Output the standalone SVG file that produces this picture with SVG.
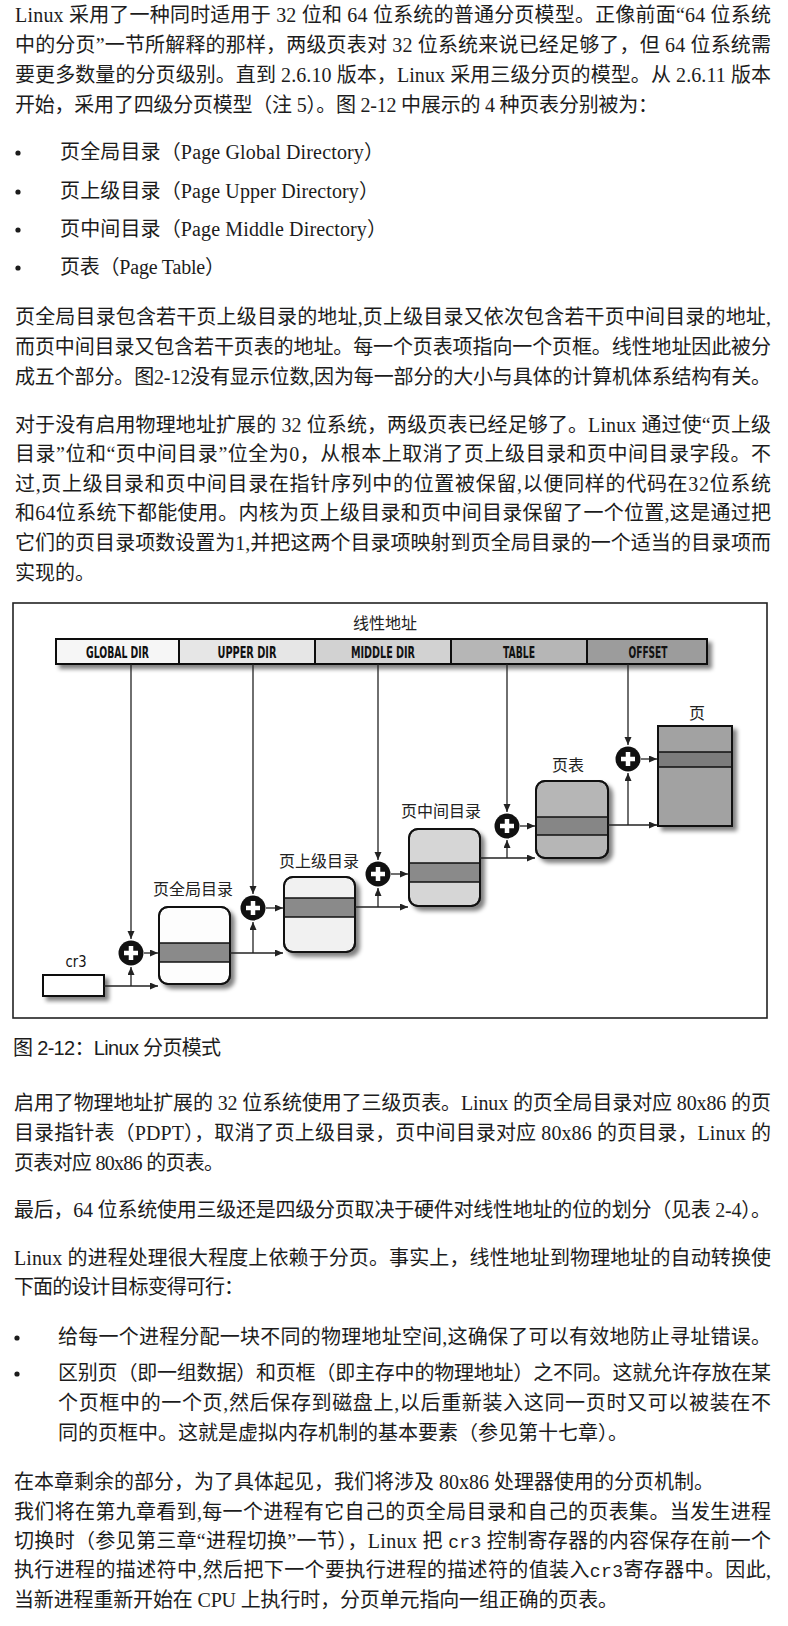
<svg xmlns="http://www.w3.org/2000/svg" width="788" height="1626" viewBox="0 0 788 1626">
<style>
.t{font-family:"Liberation Serif","Noto Sans CJK SC",serif;font-size:20px;fill:#1c1c1c}
.m{font-family:"Liberation Mono",monospace;font-size:18px}
.cap{font-family:"Liberation Sans","Noto Sans CJK SC",sans-serif;font-size:20px;fill:#1c1c1c}
.lbl{font-family:"Liberation Sans","Noto Sans CJK SC",sans-serif;font-size:16px;fill:#222;text-anchor:middle}
.bar{font-family:"DejaVu Sans Condensed","DejaVu Sans",sans-serif;font-weight:bold;font-size:16px;fill:#111;text-anchor:middle}
.seg{stroke:#111;stroke-width:2}
.box{stroke:#111;stroke-width:2}
.band{fill:#8a8a8a;stroke:#111;stroke-width:1.5}
.con{stroke:#222;stroke-width:1.3;fill:none}
.dot{fill:#1c1c1c}
</style>
<defs>
<filter id="sh" x="-20%" y="-20%" width="160%" height="160%">
<feGaussianBlur in="SourceAlpha" stdDeviation="2"/>
<feOffset dx="4" dy="4"/>
<feComponentTransfer><feFuncA type="linear" slope="0.5"/></feComponentTransfer>
<feMerge><feMergeNode/><feMergeNode in="SourceGraphic"/></feMerge>
</filter>
<marker id="ah" markerUnits="userSpaceOnUse" markerWidth="9" markerHeight="8" refX="8" refY="3.5" orient="auto">
<path d="M0,0L8,3.5L0,7z" fill="#222"/>
</marker>
<g id="plus"><circle r="12.5" fill="#111"/><path d="M-7,0H7M0,-7V7" stroke="#fff" stroke-width="4.5"/></g>
</defs>
<rect width="788" height="1626" fill="#fff"/>

<g id="text-top">
<text class="t" x="15" y="22" textLength="756" lengthAdjust="spacing">Linux 采用了一种同时适用于 32 位和 64 位系统的普通分页模型。正像前面“64 位系统</text>
<text class="t" x="15" y="52" textLength="756" lengthAdjust="spacing">中的分页”一节所解释的那样，两级页表对 32 位系统来说已经足够了，但 64 位系统需</text>
<text class="t" x="15" y="82" textLength="756" lengthAdjust="spacing">要更多数量的分页级别。直到 2.6.10 版本，Linux 采用三级分页的模型。从 2.6.11 版本</text>
<text class="t" x="15" y="112" textLength="643" lengthAdjust="spacing">开始，采用了四级分页模型（注 5）。图 2-12 中展示的 4 种页表分别被为：</text>
<circle class="dot" cx="18" cy="153" r="2.6"/>
<circle class="dot" cx="18" cy="192" r="2.6"/>
<circle class="dot" cx="18" cy="230" r="2.6"/>
<circle class="dot" cx="18" cy="268" r="2.6"/>
<text class="t" x="60" y="159" textLength="324" lengthAdjust="spacing">页全局目录（Page Global Directory）</text>
<text class="t" x="60" y="198" textLength="319" lengthAdjust="spacing">页上级目录（Page Upper Directory）</text>
<text class="t" x="60" y="236" textLength="327" lengthAdjust="spacing">页中间目录（Page Middle Directory）</text>
<text class="t" x="60" y="274" textLength="165" lengthAdjust="spacing">页表（Page Table）</text>
<text class="t" x="15" y="324" textLength="756" lengthAdjust="spacing">页全局目录包含若干页上级目录的地址,页上级目录又依次包含若干页中间目录的地址,</text>
<text class="t" x="15" y="354" textLength="756" lengthAdjust="spacing">而页中间目录又包含若干页表的地址。每一个页表项指向一个页框。线性地址因此被分</text>
<text class="t" x="15" y="384" textLength="756" lengthAdjust="spacing">成五个部分。图2-12没有显示位数,因为每一部分的大小与具体的计算机体系结构有关。</text>
<text class="t" x="15" y="432" textLength="756" lengthAdjust="spacing">对于没有启用物理地址扩展的 32 位系统，两级页表已经足够了。Linux 通过使“页上级</text>
<text class="t" x="15" y="461" textLength="756" lengthAdjust="spacing">目录”位和“页中间目录”位全为0，从根本上取消了页上级目录和页中间目录字段。不</text>
<text class="t" x="15" y="491" textLength="756" lengthAdjust="spacing">过,页上级目录和页中间目录在指针序列中的位置被保留,以便同样的代码在32位系统</text>
<text class="t" x="15" y="520" textLength="756" lengthAdjust="spacing">和64位系统下都能使用。内核为页上级目录和页中间目录保留了一个位置,这是通过把</text>
<text class="t" x="15" y="550" textLength="756" lengthAdjust="spacing">它们的页目录项数设置为1,并把这两个目录项映射到页全局目录的一个适当的目录项而</text>
<text class="t" x="15" y="580">实现的。</text>
</g>

<g id="figure">
<rect x="13" y="603" width="754" height="415" fill="#fff" stroke="#222" stroke-width="1.6"/>
<text class="lbl" x="385" y="629">线性地址</text>
</g>

<g id="linear-address">
<g filter="url(#sh)">
<rect class="seg" x="56" y="639" width="123" height="25" fill="#f6f6f6"/>
<rect class="seg" x="179" y="639" width="136" height="25" fill="#e6e6e6"/>
<rect class="seg" x="315" y="639" width="136" height="25" fill="#d2d2d2"/>
<rect class="seg" x="451" y="639" width="136" height="25" fill="#b6b6b6"/>
<rect class="seg" x="587" y="639" width="120" height="25" fill="#9c9c9c"/>
</g>
<text class="bar" x="117.5" y="658" textLength="63" lengthAdjust="spacingAndGlyphs">GLOBAL DIR</text>
<text class="bar" x="247" y="658" textLength="59" lengthAdjust="spacingAndGlyphs">UPPER DIR</text>
<text class="bar" x="383" y="658" textLength="64" lengthAdjust="spacingAndGlyphs">MIDDLE DIR</text>
<text class="bar" x="519" y="658" textLength="32" lengthAdjust="spacingAndGlyphs">TABLE</text>
<text class="bar" x="648" y="658" textLength="39" lengthAdjust="spacingAndGlyphs">OFFSET</text>
</g>

<g id="cr3">
<rect class="box" x="43" y="975" width="61" height="21" fill="#fff" filter="url(#sh)"/>
<text class="bar" style="font-weight:normal;font-size:15px" x="76" y="967" textLength="21" lengthAdjust="spacingAndGlyphs">cr3</text>
</g>

<g id="page-global-dir">
<rect class="box" x="159" y="907" width="71" height="77" rx="9" fill="#fdfdfd" filter="url(#sh)"/>
<rect class="band" x="159" y="943" width="71" height="19"/>
<rect x="159" y="907" width="71" height="77" rx="9" fill="none" stroke="#111" stroke-width="2"/>
<text class="lbl" x="193" y="895">页全局目录</text>
</g>

<g id="page-upper-dir">
<rect class="box" x="284" y="877" width="71" height="75" rx="9" fill="#f1f1f1" filter="url(#sh)"/>
<rect class="band" x="284" y="898" width="71" height="19"/>
<rect x="284" y="877" width="71" height="75" rx="9" fill="none" stroke="#111" stroke-width="2"/>
<text class="lbl" x="319" y="867">页上级目录</text>
</g>

<g id="page-middle-dir">
<rect class="box" x="409" y="829" width="71" height="77" rx="9" fill="#d6d6d6" filter="url(#sh)"/>
<rect class="band" x="409" y="863" width="71" height="19"/>
<rect x="409" y="829" width="71" height="77" rx="9" fill="none" stroke="#111" stroke-width="2"/>
<text class="lbl" x="441" y="817">页中间目录</text>
</g>

<g id="page-table">
<rect class="box" x="536" y="781" width="72" height="77" rx="9" fill="#b6b6b6" filter="url(#sh)"/>
<rect class="band" x="536" y="817" width="72" height="18" style="fill:#868686"/>
<rect x="536" y="781" width="72" height="77" rx="9" fill="none" stroke="#111" stroke-width="2"/>
<text class="lbl" x="568" y="771">页表</text>
</g>

<g id="page">
<rect class="box" x="658" y="726" width="74" height="100" fill="#a2a2a2" filter="url(#sh)"/>
<rect class="band" x="658" y="752" width="74" height="15" style="fill:#7c7c7c"/>
<rect x="658" y="726" width="74" height="100" fill="none" stroke="#111" stroke-width="2"/>
<text class="lbl" x="697" y="719">页</text>
</g>

<g id="adders">
<use href="#plus" x="131" y="953"/>
<use href="#plus" x="253" y="908"/>
<use href="#plus" x="378" y="874"/>
<use href="#plus" x="507" y="826"/>
<use href="#plus" x="628" y="759"/>
</g>

<g id="connectors">
<path class="con" d="M131,664V939" marker-end="url(#ah)"/>
<path class="con" d="M253,664V894" marker-end="url(#ah)"/>
<path class="con" d="M378,664V860" marker-end="url(#ah)"/>
<path class="con" d="M507,664V812" marker-end="url(#ah)"/>
<path class="con" d="M628,664V745" marker-end="url(#ah)"/>
<path class="con" d="M144,953H158" marker-end="url(#ah)"/>
<path class="con" d="M266,908H283" marker-end="url(#ah)"/>
<path class="con" d="M391,874H408" marker-end="url(#ah)"/>
<path class="con" d="M520,826H535" marker-end="url(#ah)"/>
<path class="con" d="M641,759H657" marker-end="url(#ah)"/>
<path class="con" d="M104,986H158" marker-end="url(#ah)"/>
<path class="con" d="M131,986V967" marker-end="url(#ah)"/>
<path class="con" d="M230,953H283" marker-end="url(#ah)"/>
<path class="con" d="M253,953V922" marker-end="url(#ah)"/>
<path class="con" d="M355,907H408" marker-end="url(#ah)"/>
<path class="con" d="M378,907V888" marker-end="url(#ah)"/>
<path class="con" d="M480,858H535" marker-end="url(#ah)"/>
<path class="con" d="M507,858V840" marker-end="url(#ah)"/>
<path class="con" d="M608,825H657" marker-end="url(#ah)"/>
<path class="con" d="M628,825V773" marker-end="url(#ah)"/>
</g>

<g id="text-bottom">
<text class="cap" x="13" y="1055" textLength="208" lengthAdjust="spacing">图 2-12：Linux 分页模式</text>
<text class="t" x="14" y="1110" textLength="757" lengthAdjust="spacing">启用了物理地址扩展的 32 位系统使用了三级页表。Linux 的页全局目录对应 80x86 的页</text>
<text class="t" x="14" y="1140" textLength="757" lengthAdjust="spacing">目录指针表（PDPT），取消了页上级目录，页中间目录对应 80x86 的页目录，Linux 的</text>
<text class="t" x="14" y="1170" textLength="210" lengthAdjust="spacing">页表对应 80x86 的页表。</text>
<text class="t" x="14" y="1217" textLength="757" lengthAdjust="spacing">最后，64 位系统使用三级还是四级分页取决于硬件对线性地址的位的划分（见表 2-4）。</text>
<text class="t" x="14" y="1265" textLength="757" lengthAdjust="spacing">Linux 的进程处理很大程度上依赖于分页。事实上，线性地址到物理地址的自动转换使</text>
<text class="t" x="14" y="1294" textLength="230" lengthAdjust="spacing">下面的设计目标变得可行：</text>
<circle class="dot" cx="17" cy="1338" r="2.6"/>
<circle class="dot" cx="17" cy="1374" r="2.6"/>
<text class="t" x="58" y="1344" textLength="713" lengthAdjust="spacing">给每一个进程分配一块不同的物理地址空间,这确保了可以有效地防止寻址错误。</text>
<text class="t" x="58" y="1380" textLength="713" lengthAdjust="spacing">区别页（即一组数据）和页框（即主存中的物理地址）之不同。这就允许存放在某</text>
<text class="t" x="58" y="1410" textLength="713" lengthAdjust="spacing">个页框中的一个页,然后保存到磁盘上,以后重新装入这同一页时又可以被装在不</text>
<text class="t" x="58" y="1440" textLength="570" lengthAdjust="spacing">同的页框中。这就是虚拟内存机制的基本要素（参见第十七章）。</text>
<text class="t" x="14" y="1489" textLength="700" lengthAdjust="spacing">在本章剩余的部分，为了具体起见，我们将涉及 80x86 处理器使用的分页机制。</text>
<text class="t" x="14" y="1519" textLength="757" lengthAdjust="spacing">我们将在第九章看到,每一个进程有它自己的页全局目录和自己的页表集。当发生进程</text>
<text class="t" x="14" y="1548" textLength="757" lengthAdjust="spacing">切换时（参见第三章“进程切换”一节），Linux 把 <tspan class="m">cr3</tspan> 控制寄存器的内容保存在前一个</text>
<text class="t" x="14" y="1577" textLength="757" lengthAdjust="spacing">执行进程的描述符中,然后把下一个要执行进程的描述符的值装入<tspan class="m">cr3</tspan>寄存器中。因此,</text>
<text class="t" x="14" y="1607" textLength="604" lengthAdjust="spacing">当新进程重新开始在 CPU 上执行时，分页单元指向一组正确的页表。</text>
</g>
</svg>
